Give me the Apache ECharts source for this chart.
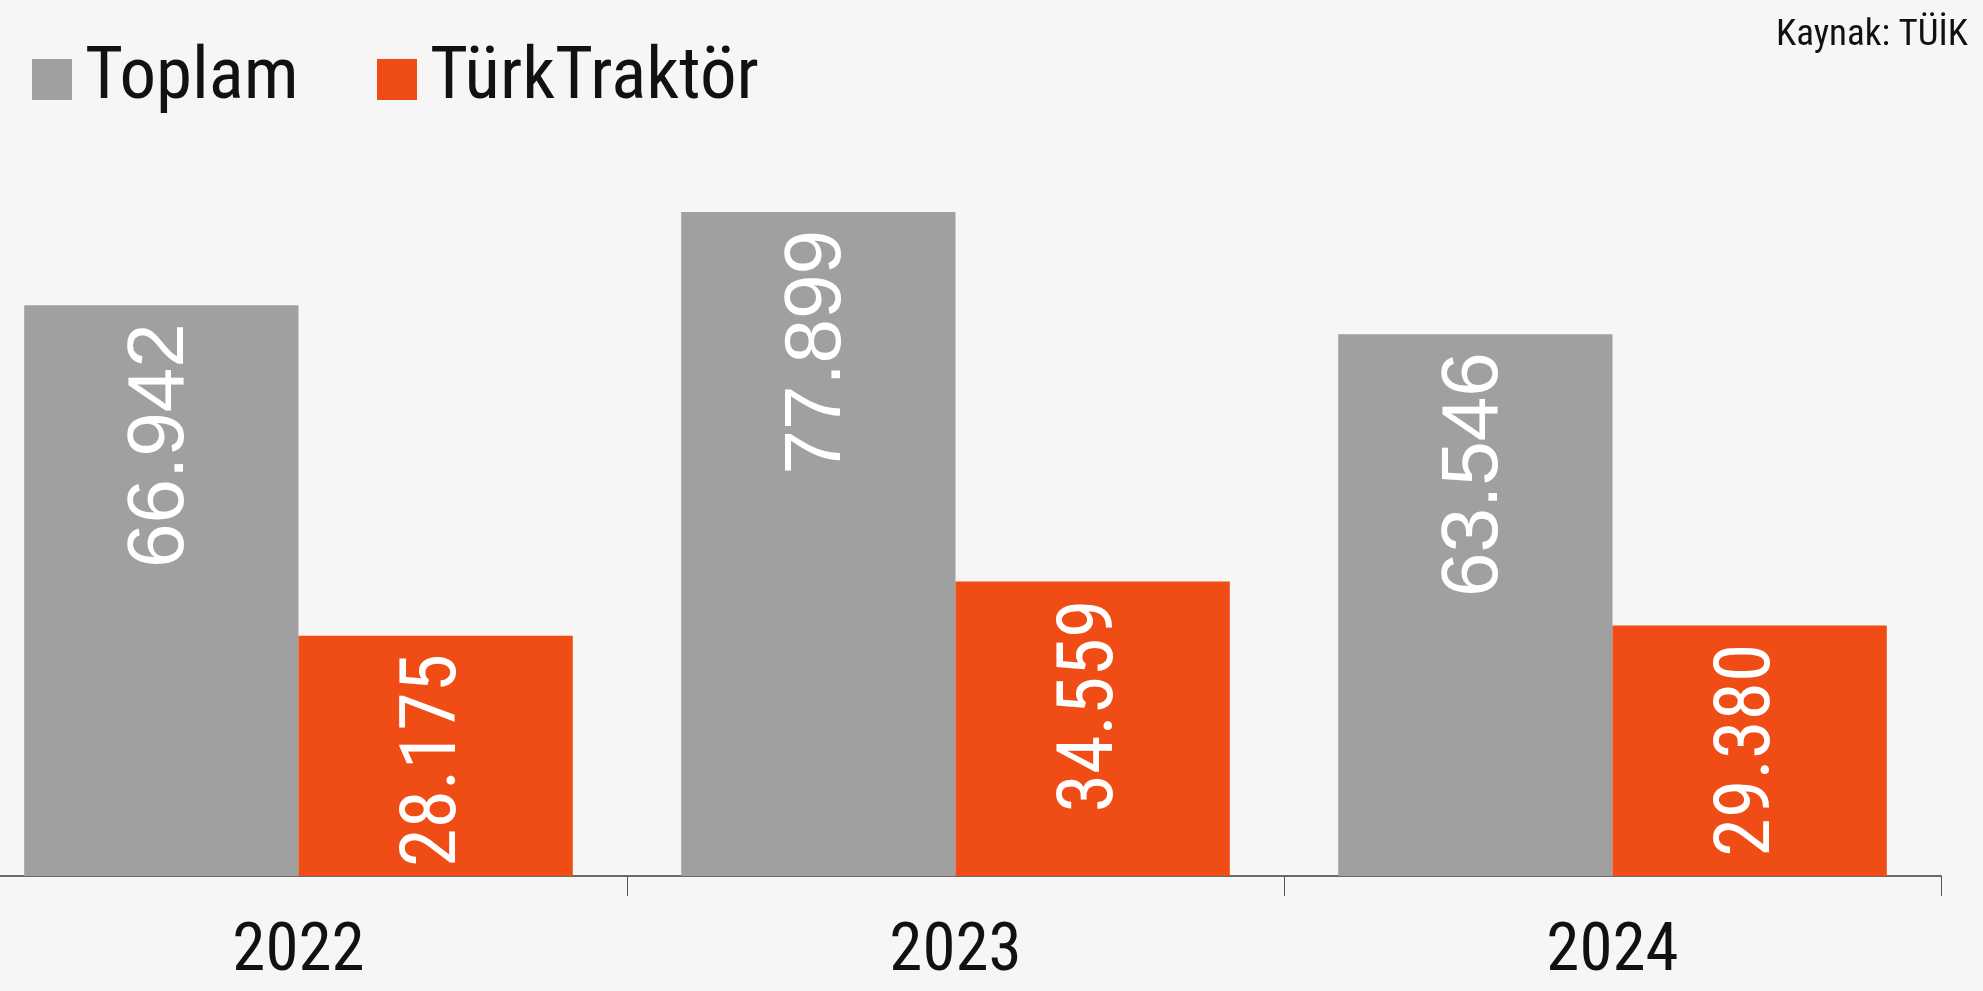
<!DOCTYPE html>
<html>
<head>
<meta charset="utf-8">
<script src="https://cdn.jsdelivr.net/npm/echarts@6/dist/echarts.min.js"></script>
<style>
  html, body { margin: 0; padding: 0; background: #f6f6f6; }
  #chart { width: 1983px; height: 991px; }
</style>
</head>
<body>
<div id="chart"></div>
<script>
// Tractor sales: total market vs TürkTraktör, by year
const years = ['2022', '2023', '2024'];
const toplam = [66942, 77899, 63546];
const turkTraktor = [28175, 34559, 29380];
const seriesNames = ['Toplam', 'TürkTraktör'];
const sourceText = 'Kaynak: TÜİK';

const GRAY = '#a0a0a0';
const ORANGE = '#f04c16';
const NARROW = '"Roboto Condensed", "Open Sans Condensed", sans-serif';
const SANS = '"Liberation Sans", Arial, sans-serif';

// 66942 -> "66.942"
function dotted(v) {
  return String(v).replace(/\B(?=(\d{3})+(?!\d))/g, '.');
}

function valueLabel(fontFamily, fontSize) {
  return {
    show: true,
    position: 'insideTop',
    distance: 18,
    rotate: 90,
    align: 'right',
    verticalAlign: 'middle',
    color: '#ffffff',
    fontSize,
    fontFamily,
    formatter: p => dotted(p.value),
  };
}

function legendAt(name, left) {
  return {
    data: [name],
    left,
    top: 43,
    padding: 0,
    icon: 'rect',
    itemWidth: 40,
    itemHeight: 41,
    selectedMode: false,
    textStyle: {
      fontSize: 73,
      fontFamily: NARROW,
      color: '#111111',
      padding: [0, 0, 0, 8],
    },
  };
}

const chart = echarts.init(document.getElementById('chart'));
chart.setOption({
  animation: false,
  backgroundColor: '#f6f6f6',
  title: {
    text: sourceText,
    right: 10,
    top: 12,
    textStyle: { fontSize: 37, fontWeight: 'normal', fontFamily: NARROW, color: '#111111' },
  },
  legend: [legendAt(seriesNames[0], 32), legendAt(seriesNames[1], 377)],
  grid: { left: -30, right: 42, top: 194, bottom: 115, outerBoundsMode: 'none' },
  xAxis: {
    type: 'category',
    data: years,
    axisLine: { lineStyle: { color: '#6a6a6a', width: 2 } },
    axisTick: { show: true, length: 20, lineStyle: { color: '#555555', width: 1 } },
    axisLabel: { fontSize: 67, fontFamily: NARROW, color: '#111111', margin: 44 },
  },
  yAxis: {
    type: 'value',
    min: 0,
    max: 80000,
    show: false,
    splitLine: { show: false },
  },
  series: [
    {
      name: seriesNames[0],
      type: 'bar',
      data: toplam,
      barGap: '0%',
      barCategoryGap: '16.5%',
      itemStyle: { color: GRAY },
      label: valueLabel(SANS, 80),
    },
    {
      name: seriesNames[1],
      type: 'bar',
      data: turkTraktor,
      itemStyle: { color: ORANGE },
      label: valueLabel(NARROW, 78),
    },
  ],
});
</script>
</body>
</html>
